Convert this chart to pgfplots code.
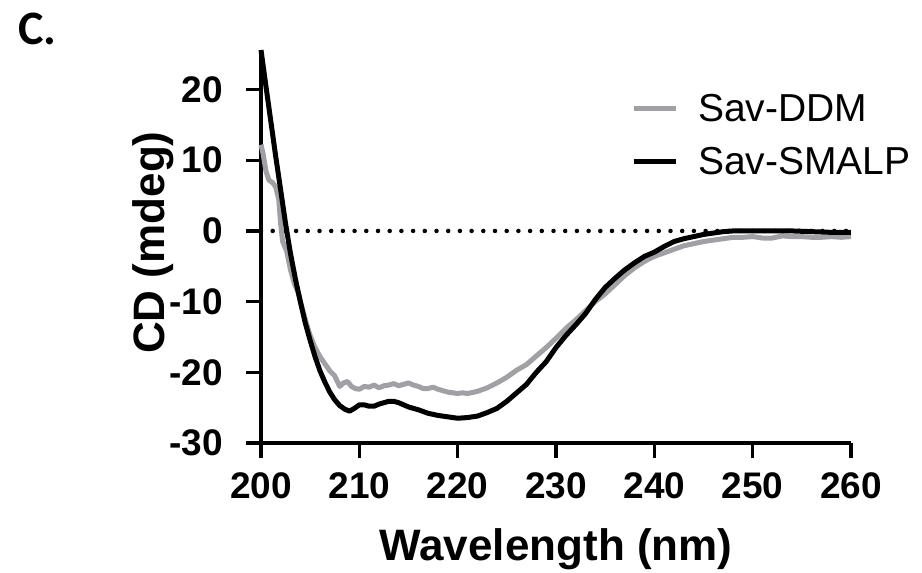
\documentclass[border=0pt]{standalone}
\usepackage{pgfplots}
\pgfplotsset{compat=1.18}
\usepackage{fontspec}
\setmainfont{Liberation Sans}
\newfontfamily\calfont{Carlito}
\definecolor{ddmgray}{RGB}{160,160,165}
\pgfplotstableread{
x y
200.0 12.2
200.2 11.0
200.5 8.5
200.8 7.2
201.2 6.8
201.5 6.2
201.8 4.5
202.0 1.0
202.2 -1.5
202.6 -2.8
203.0 -5.5
203.4 -7.5
203.8 -8.8
204.2 -11.0
204.6 -13.0
205.0 -14.8
205.5 -16.5
206.0 -17.8
206.5 -18.8
207.0 -19.8
207.5 -20.5
208.0 -22.0
208.4 -21.5
208.8 -21.3
209.2 -22.0
209.6 -22.3
210.0 -22.4
210.5 -22.0
211.0 -22.1
211.5 -21.8
212.0 -22.2
212.5 -21.9
213.0 -21.8
213.5 -21.6
214.0 -21.9
214.5 -21.7
215.0 -21.5
215.5 -21.8
216.0 -22.0
216.5 -22.3
217.0 -22.3
217.5 -22.1
218.0 -22.4
219.0 -22.8
220.0 -23.0
220.5 -22.9
221.0 -23.0
222.0 -22.7
223.0 -22.2
224.0 -21.5
225.0 -20.7
226.0 -19.7
227.0 -18.9
228.0 -17.7
229.0 -16.5
230.0 -15.2
231.0 -13.8
232.0 -12.6
233.0 -11.3
234.0 -10.0
235.0 -8.9
236.0 -7.6
237.0 -6.3
238.0 -5.2
239.0 -4.3
240.0 -3.6
241.0 -3.1
242.0 -2.6
243.0 -2.1
244.0 -1.8
245.0 -1.5
246.0 -1.3
247.0 -1.1
248.0 -0.9
249.0 -0.9
250.0 -0.8
251.0 -1.0
252.0 -1.0
253.0 -0.7
254.0 -0.8
255.0 -0.8
256.0 -0.9
257.0 -0.9
258.0 -0.8
259.0 -0.9
260.0 -0.8
}\ddm
\pgfplotstableread{
x y
200.0 25.6
200.5 20.5
201.0 15.5
201.5 10.5
202.0 5.8
202.5 1.0
203.0 -3.2
203.5 -6.8
204.0 -10.0
204.5 -13.0
205.0 -15.5
205.5 -17.8
206.0 -19.8
206.5 -21.4
207.0 -22.8
207.5 -23.9
208.0 -24.7
208.5 -25.2
209.0 -25.5
209.5 -25.1
210.0 -24.6
210.5 -24.6
211.0 -24.8
211.5 -24.8
212.0 -24.5
212.5 -24.3
213.0 -24.1
213.5 -24.1
214.0 -24.3
215.0 -24.9
216.0 -25.3
217.0 -25.8
218.0 -26.1
219.0 -26.3
220.0 -26.5
221.0 -26.4
222.0 -26.2
223.0 -25.7
224.0 -25.1
225.0 -24.1
226.0 -22.9
227.0 -21.7
228.0 -20.0
229.0 -18.5
230.0 -16.5
231.0 -14.8
232.0 -13.3
233.0 -11.7
234.0 -9.7
235.0 -8.0
236.0 -6.7
237.0 -5.5
238.0 -4.5
239.0 -3.6
240.0 -3.0
241.0 -2.2
242.0 -1.5
243.0 -1.1
244.0 -0.8
245.0 -0.5
246.0 -0.3
247.0 -0.1
248.0 0.0
250.0 0.0
252.0 0.0
254.0 0.0
256.0 -0.1
258.0 -0.2
260.0 -0.2
}\smalp
\begin{document}
\begin{tikzpicture}
\path (0pt,0pt) rectangle (922pt,571pt);
\node[anchor=base west, inner sep=0pt, font=\calfont\bfseries\fontsize{48}{48}\selectfont] at (18pt,526pt) {C.};
\begin{axis}[
  at={(261pt,128pt)}, anchor=south west, scale only axis,
  width=590pt, height=393pt,
  xmin=200, xmax=260, ymin=-30, ymax=25.6,
  clip=false,
  axis lines=left,
  axis line style={-, line width=3.5pt, black},
  xtick={200,210,...,260}, xticklabels={200,210,220,230,240,250,260},
  ytick={-30,-20,...,20}, yticklabels={-30,-20,-10,0,10,20},
  minor tick num=0,
  tick align=outside, major tick length=15pt,
  xtick style={draw=black, line width=3.5pt},
  ytick style={draw=black, line width=3.5pt},
  xticklabel style={font=\bfseries\fontsize{37}{37}\selectfont, inner sep=0pt, anchor=north, yshift=-14pt},
  yticklabel style={font=\bfseries\fontsize{37}{37}\selectfont, inner sep=0pt, anchor=east, xshift=-23pt},
  xlabel={Wavelength (nm)}, ylabel={CD (mdeg)},
  label style={font=\bfseries\fontsize{44}{44}\selectfont},
  xlabel style={at={(axis description cs:0.5,-0.298)}, anchor=base},
  ylabel style={at={(axis description cs:-0.183,0.51)}, anchor=center},
  legend style={draw=none, fill=none, at={(axis description cs:0.627,0.887)}, anchor=north west,
    font=\fontsize{39}{39}\selectfont, row sep=26pt, column sep=20pt, inner sep=0pt,
    nodes={inner sep=0pt, text height=27pt, text depth=0pt}},
  legend cell align=left,
  legend image code/.code={\draw[#1] (0pt,0pt) -- (42pt,0pt);},
]
\addplot[black, line width=4.5pt, line cap=round, dash pattern=on 0pt off 11.7pt, forget plot] coordinates {(200,0) (260,0)};
\addplot[ddmgray, line width=5pt, line join=round] table {\ddm};
\addlegendentry{Sav-DDM}
\addplot[black, line width=5pt, line join=round] table {\smalp};
\addlegendentry{Sav-SMALP}
\pgfplotsinvokeforeach{200,210,220,230,240,250,260}{
  \draw[black, line width=3.5pt] (axis cs:#1,-30) -- ([yshift=-15pt]axis cs:#1,-30);
}
\pgfplotsinvokeforeach{-30,-20,-10,0,10,20}{
  \draw[black, line width=3.5pt] (axis cs:200,#1) -- ([xshift=-15pt]axis cs:200,#1);
}
\end{axis}
\end{tikzpicture}
\end{document}
